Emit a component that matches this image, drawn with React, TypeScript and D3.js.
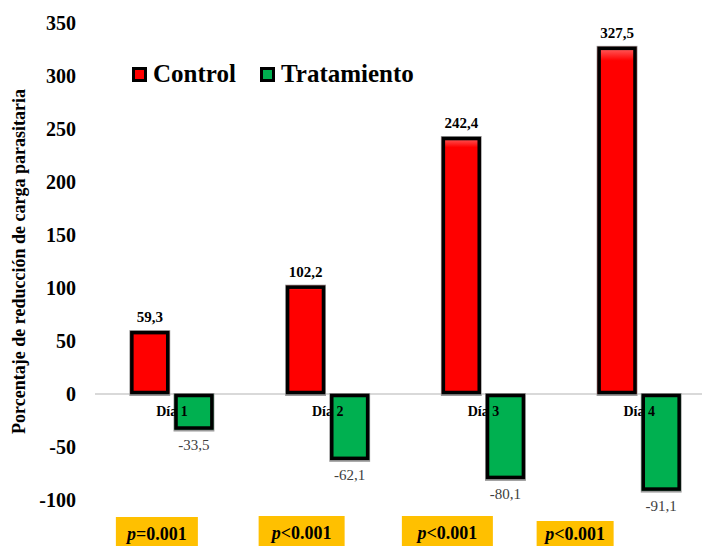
import { useEffect, useRef } from 'react';
import * as d3 from 'd3';

const categories = ['Día 1', 'Día 2', 'Día 3', 'Día 4'];
const control = [59.3, 102.2, 242.4, 327.5];
const tratamiento = [-33.5, -62.1, -80.1, -91.1];
const pLabels = ['=0.001', '<0.001', '<0.001', '<0.001'];
const yTicks = [-100, -50, 0, 50, 100, 150, 200, 250, 300, 350];
const seriesNames = ['Control', 'Tratamiento'];

const fmt = (v: number) => v.toFixed(1).replace('.', ',');
const FONT = "'Liberation Serif', 'Times New Roman', Times, serif";

export default function App() {
  const svgRef = useRef<SVGSVGElement>(null);

  useEffect(() => {
    if (!svgRef.current) return;
    const svg = d3.select(svgRef.current);
    svg.selectAll('*').remove();

    const W = 702;

    const x0 = d3
      .scaleBand<string>()
      .domain(categories)
      .range([94, 717])
      .paddingInner(0.467)
      .paddingOuter(0.2335);
    const x1 = d3
      .scaleBand<string>()
      .domain(seriesNames)
      .range([0, x0.bandwidth()])
      .paddingInner(0.12);
    const y = d3.scaleLinear().domain([-100, 350]).range([500, 23]);

    // gradients for a light bevel
    const defs = svg.append('defs');
    const mkGrad = (id: string, light: string, base: string) => {
      const g = defs.append('linearGradient').attr('id', id).attr('x1', 0).attr('y1', 0).attr('x2', 0).attr('y2', 1);
      g.append('stop').attr('offset', '0%').attr('stop-color', light);
      g.append('stop').attr('offset', '4%').attr('stop-color', base);
      g.append('stop').attr('offset', '100%').attr('stop-color', base);
    };
    mkGrad('gRed', '#ff6a6a', '#ff0000');
    mkGrad('gGreen', '#5ee08f', '#00b050');

    // zero line
    svg
      .append('line')
      .attr('x1', 95)
      .attr('x2', W)
      .attr('y1', y(0))
      .attr('y2', y(0))
      .attr('stroke', '#d9d9d9')
      .attr('stroke-width', 2);

    // y tick labels
    svg
      .selectAll('.ytick')
      .data(yTicks)
      .enter()
      .append('text')
      .attr('x', 76)
      .attr('y', (d) => y(d))
      .attr('dy', '0.35em')
      .attr('text-anchor', 'end')
      .style('font-family', FONT)
      .attr('font-weight', 'bold')
      .attr('font-size', 20)
      .attr('fill', '#000')
      .text((d) => d);

    // y title
    svg
      .append('text')
      .attr('transform', `translate(25,${y(125)}) rotate(-90)`)
      .attr('text-anchor', 'middle')
      .style('font-family', FONT)
      .attr('font-weight', 'bold')
      .attr('font-size', 18)
      .text('Porcentaje de reducción de carga parasitaria');

    const rows = categories.map((c, i) => ({ c, ctrl: control[i], trt: tratamiento[i] }));
    const bars = rows.flatMap((r) => [
      { c: r.c, s: 'Control', v: r.ctrl },
      { c: r.c, s: 'Tratamiento', v: r.trt },
    ]);
    const bx = (d: { c: string; s: string }) => x0(d.c)! + x1(d.s)!;
    const by = (v: number) => Math.min(y(v), y(0));
    const bh = (v: number) => Math.abs(y(v) - y(0));

    // shadow
    svg
      .selectAll('.shadow')
      .data(bars)
      .enter()
      .append('rect')
      .attr('x', (d) => bx(d) - 1)
      .attr('y', (d) => by(d.v) - 1)
      .attr('width', x1.bandwidth() + 2)
      .attr('height', (d) => bh(d.v) + 3)
      .attr('fill', '#9a9a9a');

    // fills
    svg
      .selectAll('.bar')
      .data(bars)
      .enter()
      .append('rect')
      .attr('x', (d) => bx(d))
      .attr('y', (d) => by(d.v))
      .attr('width', x1.bandwidth())
      .attr('height', (d) => bh(d.v))
      .attr('fill', (d) => (d.s === 'Control' ? 'url(#gRed)' : 'url(#gGreen)'));

    // category labels (sit between fills and outlines)
    svg
      .selectAll('.cat')
      .data(categories)
      .enter()
      .append('text')
      .attr('x', (d) => x0(d)! + x0.bandwidth() / 2)
      .attr('y', y(0) + 22)
      .attr('text-anchor', 'middle')
      .style('font-family', FONT)
      .attr('font-weight', 'bold')
      .attr('font-size', 14)
      .text((d) => d);

    // outlines
    svg
      .selectAll('.outline')
      .data(bars)
      .enter()
      .append('rect')
      .attr('x', (d) => bx(d) + 1.5)
      .attr('y', (d) => by(d.v) + 1.5)
      .attr('width', x1.bandwidth() - 3)
      .attr('height', (d) => bh(d.v) - 3)
      .attr('fill', 'none')
      .attr('stroke', '#000')
      .attr('stroke-width', 3.5);

    // value labels
    svg
      .selectAll('.vctrl')
      .data(bars.filter((d) => d.s === 'Control'))
      .enter()
      .append('text')
      .attr('x', (d) => bx(d) + x1.bandwidth() / 2)
      .attr('y', (d) => y(d.v) - 9)
      .attr('text-anchor', 'middle')
      .style('font-family', FONT)
      .attr('font-weight', 'bold')
      .attr('font-size', 15)
      .text((d) => fmt(d.v));

    svg
      .selectAll('.vtrt')
      .data(bars.filter((d) => d.s === 'Tratamiento'))
      .enter()
      .append('text')
      .attr('x', (d) => bx(d) + x1.bandwidth() / 2)
      .attr('y', (d) => y(d.v) + 20)
      .attr('text-anchor', 'middle')
      .style('font-family', FONT)
      .attr('font-size', 15)
      .attr('fill', '#404040')
      .text((d) => fmt(d.v));

    // legend
    const legend = svg.append('g').attr('transform', 'translate(132,67)');
    const legX = [0, 128];
    seriesNames.forEach((s, i) => {
      const g = legend.append('g').attr('transform', `translate(${legX[i]},0)`);
      g.append('rect')
        .attr('x', 1.5)
        .attr('y', 1.5)
        .attr('width', 12)
        .attr('height', 12)
        .attr('fill', i === 0 ? '#ff0000' : '#00b050')
        .attr('stroke', '#000')
        .attr('stroke-width', 3);
      g.append('text')
        .attr('x', 21)
        .attr('y', 15)
        .style('font-family', FONT)
        .attr('font-weight', 'bold')
        .attr('font-size', 25)
        .text(s);
    });

    // p-value boxes
    const pOffset = [-15, -26, -36, -64];
    const pWidth = [82, 86, 91, 77];
    const pTop = [517, 516, 516, 521];
    categories.forEach((c, i) => {
      const cx = x0(c)! + x0.bandwidth() / 2 + pOffset[i];
      const g = svg.append('g');
      g.append('rect')
        .attr('x', cx - pWidth[i] / 2)
        .attr('y', pTop[i])
        .attr('width', pWidth[i])
        .attr('height', 546 - pTop[i])
        .attr('fill', '#ffc000');
      const t = g
        .append('text')
        .attr('x', cx)
        .attr('y', Math.min(pTop[i] + 23, 540))
        .attr('text-anchor', 'middle')
        .style('font-family', FONT)
        .attr('font-weight', 'bold')
        .attr('font-size', 18);
      t.append('tspan').attr('font-style', 'italic').text('p');
      t.append('tspan').text(pLabels[i]);
    });
  }, []);

  return (
    <div style={{ position: 'fixed', left: 0, top: 0, width: 702, height: 546, background: '#fff' }}>
      <svg ref={svgRef} width={702} height={546} style={{ display: 'block' }} />
    </div>
  );
}
